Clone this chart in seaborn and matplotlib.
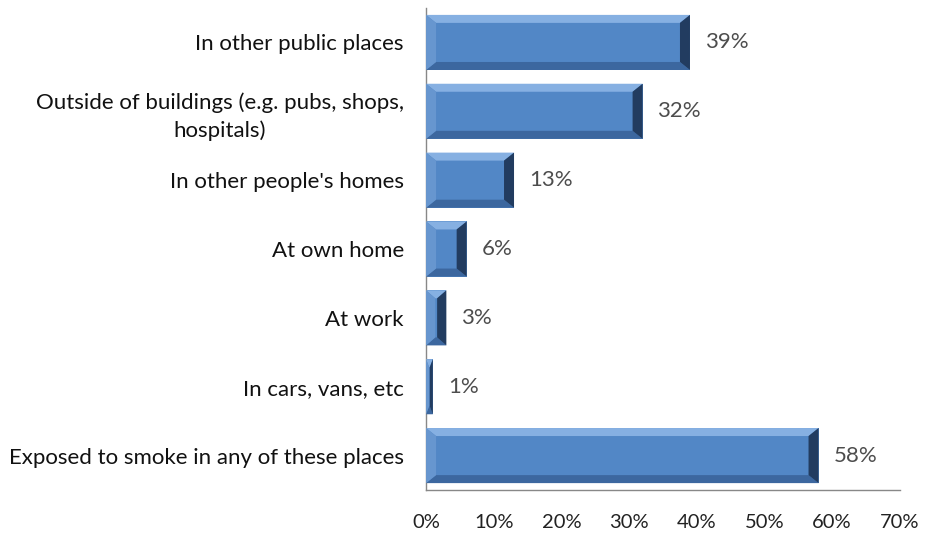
import numpy as np
import pandas as pd
import matplotlib
matplotlib.use("Agg")
import matplotlib.pyplot as plt
from matplotlib.patches import Polygon
import seaborn as sns

categories = ["In other public places",
              "Outside of buildings (e.g. pubs, shops,\nhospitals)",
              "In other people's homes",
              "At own home",
              "At work",
              "In cars, vans, etc",
              "Exposed to smoke in any of these places"]
values = [39, 32, 13, 6, 3, 1, 58]
xticks = [0, 10, 20, 30, 40, 50, 60, 70]

df = pd.DataFrame({"place": categories, "pct": values})

sns.set_style("white")
plt.rcParams['font.family'] = ['Lato', 'DejaVu Sans']

fig = plt.figure(figsize=(9.27, 5.34), dpi=100)
ax = fig.add_axes([0.4596, 0.0824, 0.511, 0.9026])

sns.barplot(data=df, y="place", x="pct", orient="h", color="#5287C6",
            saturation=1, width=0.8, edgecolor="none", ax=ax)

ax.set_xlim(0, 70)
ax.set_ylim(6.5, -0.5)
ax.set_xticks(xticks)
ax.set_xticklabels([f"{t}%" for t in xticks], fontsize=14.5, color="#222222")
ax.set_xlabel("")
ax.set_ylabel("")
ax.tick_params(axis="y", length=0, pad=16, labelsize=16, labelcolor="#111111")
for lab in ax.get_yticklabels():
    lab.set_multialignment("center")
    lab.set_linespacing(1.4)
ax.tick_params(axis="x", length=5, width=1, color="#888888", direction="out", pad=12)
for s in ["top", "right"]:
    ax.spines[s].set_visible(False)
for s in ["left", "bottom"]:
    ax.spines[s].set_color("#888888")
    ax.spines[s].set_linewidth(1)

# bevel effect: pixel sizes converted into data units
fig.canvas.draw()
inv = ax.transData.inverted()
p0 = inv.transform((0, 0))
p1 = inv.transform((10, 8))
bx = abs(p1[0] - p0[0])
by = abs(p1[1] - p0[1])

for patch, v in zip(ax.patches, values):
    x0, y0 = patch.get_x(), patch.get_y()
    w, h = patch.get_width(), patch.get_height()
    x1, y1 = x0 + w, y0 + h  # y0 top (inverted axis), y1 bottom
    b = min(bx, w / 2.2)
    top = Polygon([(x0, y0), (x1, y0), (x1 - b, y0 + by), (x0 + b, y0 + by)],
                  closed=True, facecolor="#86B0E2", edgecolor="none", zorder=3)
    bot = Polygon([(x0, y1), (x1, y1), (x1 - b, y1 - by), (x0 + b, y1 - by)],
                  closed=True, facecolor="#3C679F", edgecolor="none", zorder=3)
    left = Polygon([(x0, y0), (x0 + b, y0 + by), (x0 + b, y1 - by), (x0, y1)],
                   closed=True, facecolor="#6796CF", edgecolor="none", zorder=3)
    right = Polygon([(x1, y0), (x1 - b, y0 + by), (x1 - b, y1 - by), (x1, y1)],
                    closed=True, facecolor="#223C60", edgecolor="none", zorder=3)
    for poly in (top, bot, left, right):
        ax.add_patch(poly)
    ax.text(v + 2.2, y0 + h / 2, f"{v}%", va="center", ha="left",
            fontsize=16, color="#4D4D4D")

fig.savefig("out.png", dpi=100)
